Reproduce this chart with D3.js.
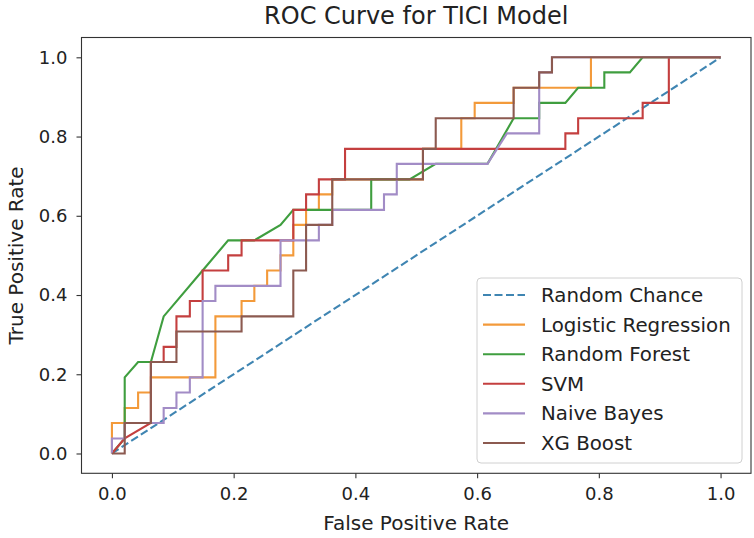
<!DOCTYPE html>
<html>
<head>
<meta charset="utf-8">
<script src="https://d3js.org/d3.v7.min.js"></script>
<style>
  body { margin: 0; background: #fff; }
  text { font-family: "DejaVu Sans", sans-serif; fill: #222; }
</style>
</head>
<body>
<script>
// ROC points (fpr, tpr)
var chanceFpr = [0, 1];
var chanceTpr = [0, 1];

var logregFpr = [0, 0, 0.021, 0.021, 0.043, 0.043, 0.064, 0.064, 0.170, 0.170, 0.213, 0.213, 0.234, 0.234, 0.255, 0.255, 0.277, 0.277, 0.298, 0.298, 0.319, 0.319, 0.340, 0.340, 0.362, 0.362, 0.511, 0.511, 0.574, 0.574, 0.596, 0.596, 0.660, 0.660, 0.787, 0.787, 1];
var logregTpr = [0, 0.077, 0.077, 0.115, 0.115, 0.154, 0.154, 0.192, 0.192, 0.346, 0.346, 0.385, 0.385, 0.423, 0.423, 0.462, 0.462, 0.500, 0.500, 0.577, 0.577, 0.615, 0.615, 0.654, 0.654, 0.692, 0.692, 0.769, 0.769, 0.846, 0.846, 0.885, 0.885, 0.923, 0.923, 1, 1];

var forestFpr = [0, 0.021, 0.021, 0.043, 0.064, 0.085, 0.149, 0.191, 0.234, 0.277, 0.298, 0.426, 0.426, 0.489, 0.532, 0.617, 0.660, 0.702, 0.702, 0.745, 0.766, 0.809, 0.809, 0.851, 0.872, 1];
var forestTpr = [0, 0.038, 0.192, 0.231, 0.231, 0.346, 0.462, 0.538, 0.538, 0.577, 0.615, 0.615, 0.692, 0.692, 0.731, 0.731, 0.846, 0.846, 0.885, 0.885, 0.923, 0.923, 0.962, 0.962, 1, 1];

var svmFpr = [0, 0.021, 0.064, 0.064, 0.085, 0.085, 0.106, 0.106, 0.128, 0.128, 0.149, 0.149, 0.191, 0.191, 0.213, 0.213, 0.298, 0.298, 0.319, 0.319, 0.340, 0.340, 0.383, 0.383, 0.745, 0.745, 0.766, 0.766, 0.872, 0.872, 0.915, 0.915, 1];
var svmTpr = [0, 0.038, 0.077, 0.231, 0.231, 0.269, 0.269, 0.346, 0.346, 0.385, 0.385, 0.462, 0.462, 0.500, 0.500, 0.538, 0.538, 0.615, 0.615, 0.654, 0.654, 0.692, 0.692, 0.769, 0.769, 0.808, 0.808, 0.846, 0.846, 0.885, 0.885, 1, 1];

var bayesFpr = [0, 0, 0.021, 0.021, 0.085, 0.085, 0.106, 0.106, 0.128, 0.128, 0.149, 0.149, 0.170, 0.170, 0.277, 0.277, 0.340, 0.340, 0.362, 0.362, 0.447, 0.447, 0.468, 0.468, 0.617, 0.649, 0.702, 0.702, 0.723, 0.723, 1];
var bayesTpr = [0, 0.038, 0.038, 0.077, 0.077, 0.115, 0.115, 0.154, 0.154, 0.192, 0.192, 0.385, 0.385, 0.423, 0.423, 0.538, 0.538, 0.577, 0.577, 0.615, 0.615, 0.654, 0.654, 0.731, 0.731, 0.808, 0.808, 0.962, 0.962, 1, 1];

var xgbFpr = [0, 0.021, 0.021, 0.064, 0.064, 0.106, 0.106, 0.213, 0.213, 0.298, 0.298, 0.319, 0.319, 0.362, 0.362, 0.511, 0.511, 0.532, 0.532, 0.660, 0.660, 0.702, 0.702, 0.723, 0.723, 1];
var xgbTpr = [0, 0, 0.077, 0.077, 0.231, 0.231, 0.308, 0.308, 0.346, 0.346, 0.462, 0.462, 0.577, 0.577, 0.692, 0.692, 0.769, 0.769, 0.846, 0.846, 0.923, 0.923, 0.962, 0.962, 1, 1];

var names = ["Random Chance", "Logistic Regression", "Random Forest", "SVM", "Naive Bayes", "XG Boost"];
var colors = ["#3f85b2", "#f39a3a", "#3f9e3f", "#c43f3f", "#a28cc6", "#8c5a50"];
var xTicks = [0.0, 0.2, 0.4, 0.6, 0.8, 1.0];
var yTicks = [0.0, 0.2, 0.4, 0.6, 0.8, 1.0];

var width = 754;
var height = 538;
var plotLeft = 81.5, plotRight = 751, plotTop = 37.5, plotBottom = 473.3;

var svg = d3.select("body").append("svg")
    .attr("width", width)
    .attr("height", height);

var xScale = d3.scaleLinear().domain([-0.05, 1.05]).range([plotLeft, plotRight]);
var yScale = d3.scaleLinear().domain([-0.05, 1.05]).range([plotBottom, plotTop]);

var zip = function(xs, ys){
    return xs.map(function(x, i){ return [x, ys[i]]; });
}

var curves = [
    zip(chanceFpr, chanceTpr),
    zip(logregFpr, logregTpr),
    zip(forestFpr, forestTpr),
    zip(svmFpr, svmTpr),
    zip(bayesFpr, bayesTpr),
    zip(xgbFpr, xgbTpr)
];

var line = d3.line()
    .x(function(d){ return xScale(d[0]); })
    .y(function(d){ return yScale(d[1]); });

// curves
svg.append("g").selectAll("path").data(curves).enter().append("path")
    .attr("d", line)
    .attr("fill", "none")
    .attr("stroke", function(d, i){ return colors[i]; })
    .attr("stroke-width", 2.1)
    .attr("stroke-dasharray", function(d, i){ return i == 0 ? "8,3.5" : null; });

// axes
var xAxis = d3.axisBottom(xScale).tickValues(xTicks).tickFormat(d3.format(".1f")).tickSizeInner(5).tickSizeOuter(0).tickPadding(5);
var yAxis = d3.axisLeft(yScale).tickValues(yTicks).tickFormat(d3.format(".1f")).tickSizeInner(5).tickSizeOuter(0).tickPadding(9);

var gx = svg.append("g").attr("transform", "translate(0," + plotBottom + ")").call(xAxis);
var gy = svg.append("g").attr("transform", "translate(" + plotLeft + ",0)").call(yAxis);
[gx, gy].forEach(function(g){
    g.select(".domain").remove();
    g.selectAll("line").attr("stroke", "#333").attr("stroke-width", 1.1);
    g.selectAll("text").style("font-size", "18px").attr("fill", "#333");
});
gx.selectAll("text").attr("dy", "0.95em");

// frame
svg.append("rect")
    .attr("x", plotLeft).attr("y", plotTop)
    .attr("width", plotRight - plotLeft).attr("height", plotBottom - plotTop)
    .attr("fill", "none").attr("stroke", "#333").attr("stroke-width", 1.1);

// titles
svg.append("text").attr("x", (plotLeft + plotRight) / 2).attr("y", 24)
    .attr("text-anchor", "middle").style("font-size", "24px").text("ROC Curve for TICI Model");
svg.append("text").attr("x", (plotLeft + plotRight) / 2).attr("y", 530)
    .attr("text-anchor", "middle").style("font-size", "20px").text("False Positive Rate");
svg.append("text").attr("transform", "translate(23," + ((plotTop + plotBottom) / 2) + ") rotate(-90)")
    .attr("text-anchor", "middle").style("font-size", "20px").text("True Positive Rate");

// legend
var legend = svg.append("g");
legend.append("rect")
    .attr("x", 477).attr("y", 278).attr("width", 265).attr("height", 185)
    .attr("rx", 4).attr("fill", "white").attr("fill-opacity", 0.8)
    .attr("stroke", "#d0d0d0");

var rows = legend.selectAll(".row").data(names).enter().append("g")
    .attr("transform", function(d, i){ return "translate(0," + (295 + i * 29.6) + ")"; });
rows.append("line")
    .attr("x1", 483).attr("x2", 525).attr("y1", 0).attr("y2", 0)
    .attr("stroke", function(d, i){ return colors[i]; })
    .attr("stroke-width", 2.1)
    .attr("stroke-dasharray", function(d, i){ return i == 0 ? "8,3.5" : null; });
rows.append("text")
    .attr("x", 541).attr("y", 0).attr("dy", "0.35em")
    .style("font-size", "19.8px")
    .text(function(d){ return d; });
</script>
</body>
</html>
